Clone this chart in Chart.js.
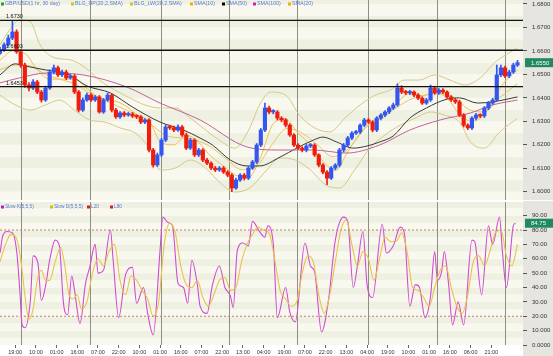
<!DOCTYPE html>
<html><head><meta charset="utf-8">
<script src="https://cdn.jsdelivr.net/npm/chart.js@4.4.1/dist/chart.umd.min.js"></script>
<style>
html,body{margin:0;padding:0;background:#fff;width:553px;height:356px;overflow:hidden}
#p{position:absolute;left:0;top:0;width:553px;height:200px}
#s{position:absolute;left:0;top:201px;width:553px;height:155px}
</style></head><body>
<canvas id="p" width="553" height="200"></canvas>
<canvas id="s" width="553" height="155"></canvas>
<script>
// ---------- DATA ----------
const candleHours = [0,3,6,9,12,15,18,21,24,27,30,33,36,39,42,45,48,51,54,57,60,63,66,69,72,75,78,81,84,87,90,93,96,99,102,105,108,111,114,117,120,123,126,129,132,135,138,141,144,147,150,153,156,159,162,165,168,171,174,177,180,183,186,189,192,195,198,201,204,207,210,213,216,219,222,225,228,231,234,237,240,243,246,249,252,255,258,261,264,267,270,273,276,279,282,285,288,291,294,297,300,303,306,309,312,315,318,321,324,327,330,333,336,339,342,345,348,351,354,357,360,363,366,369,372,375];
const opens = [1.6590,1.6604,1.6626,1.6655,1.6681,1.6596,1.6540,1.6455,1.6442,1.6468,
1.6425,1.6391,1.6442,1.6510,1.6528,1.6498,1.6510,1.6485,1.6493,1.6425,
1.6348,1.6391,1.6412,1.6391,1.6404,1.6340,1.6391,1.6412,1.6348,1.6319,
1.6336,1.6327,1.6331,1.6323,1.6319,1.6297,1.6306,1.6178,1.6114,1.6157,
1.6220,1.6276,1.6272,1.6263,1.6276,1.6242,1.6186,1.6220,1.6157,1.6178,
1.6135,1.6122,1.6101,1.6093,1.6101,1.6084,1.6071,1.6016,1.6050,1.6071,
1.6058,1.6101,1.6127,1.6199,1.6263,1.6357,1.6340,1.6340,1.6314,1.6306,
1.6284,1.6242,1.6199,1.6186,1.6178,1.6195,1.6199,1.6157,1.6114,1.6084,
1.6058,1.6101,1.6114,1.6178,1.6199,1.6229,1.6250,1.6255,1.6284,1.6306,
1.6297,1.6263,1.6314,1.6327,1.6340,1.6357,1.6370,1.6442,1.6425,1.6421,
1.6425,1.6412,1.6399,1.6378,1.6391,1.6442,1.6421,1.6433,1.6425,1.6404,
1.6391,1.6383,1.6327,1.6284,1.6272,1.6314,1.6327,1.6323,1.6357,1.6378,
1.6391,1.6498,1.6528,1.6493,1.6510,1.6540];
const highs = [1.6615,1.6635,1.6668,1.6730,1.6690,1.6605,1.6548,1.6465,1.6478,1.6475,
1.6432,1.6450,1.6520,1.6540,1.6535,1.6518,1.6518,1.6500,1.6500,1.6432,
1.6400,1.6420,1.6418,1.6410,1.6410,1.6398,1.6420,1.6418,1.6355,1.6342,
1.6342,1.6338,1.6338,1.6328,1.6325,1.6312,1.6312,1.6185,1.6165,1.6228,
1.6285,1.6284,1.6280,1.6285,1.6283,1.6250,1.6228,1.6226,1.6185,1.6184,
1.6142,1.6128,1.6108,1.6108,1.6108,1.6090,1.6078,1.6058,1.6078,1.6078,
1.6108,1.6134,1.6206,1.6270,1.6378,1.6365,1.6350,1.6346,1.6320,1.6312,
1.6290,1.6248,1.6205,1.6192,1.6202,1.6206,1.6205,1.6162,1.6120,1.6090,
1.6108,1.6120,1.6185,1.6206,1.6236,1.6256,1.6262,1.6290,1.6313,1.6312,
1.6303,1.6320,1.6333,1.6346,1.6363,1.6378,1.6460,1.6452,1.6432,1.6432,
1.6430,1.6418,1.6405,1.6398,1.6455,1.6450,1.6440,1.6440,1.6430,1.6410,
1.6398,1.6390,1.6333,1.6290,1.6320,1.6334,1.6332,1.6363,1.6385,1.6398,
1.6540,1.6540,1.6535,1.6518,1.6548,1.6560];
const lows = [1.6585,1.6598,1.6620,1.6648,1.6590,1.6530,1.6445,1.6430,1.6435,1.6418,
1.6382,1.6385,1.6436,1.6502,1.6490,1.6490,1.6478,1.6480,1.6418,1.6340,
1.6342,1.6385,1.6385,1.6385,1.6335,1.6334,1.6385,1.6340,1.6312,1.6312,
1.6320,1.6322,1.6316,1.6312,1.6290,1.6290,1.6170,1.6105,1.6108,1.6150,
1.6214,1.6265,1.6256,1.6257,1.6236,1.6180,1.6180,1.6150,1.6150,1.6128,
1.6115,1.6094,1.6086,1.6087,1.6078,1.6064,1.6000,1.6010,1.6044,1.6050,
1.6052,1.6095,1.6120,1.6192,1.6256,1.6332,1.6332,1.6306,1.6298,1.6276,
1.6236,1.6192,1.6180,1.6170,1.6170,1.6188,1.6150,1.6106,1.6076,1.6030,
1.6052,1.6094,1.6106,1.6170,1.6192,1.6222,1.6244,1.6248,1.6277,1.6290,
1.6255,1.6256,1.6306,1.6320,1.6333,1.6350,1.6364,1.6418,1.6414,1.6414,
1.6405,1.6392,1.6372,1.6372,1.6385,1.6415,1.6415,1.6418,1.6398,1.6385,
1.6376,1.6320,1.6276,1.6265,1.6265,1.6306,1.6316,1.6316,1.6350,1.6372,
1.6385,1.6490,1.6486,1.6486,1.6504,1.6534];
const closes = [1.6604,1.6626,1.6655,1.6681,1.6596,1.6540,1.6455,1.6442,1.6468,1.6425,
1.6391,1.6442,1.6510,1.6528,1.6498,1.6510,1.6485,1.6493,1.6425,1.6348,
1.6391,1.6412,1.6391,1.6404,1.6340,1.6391,1.6412,1.6348,1.6319,1.6336,
1.6327,1.6331,1.6323,1.6319,1.6297,1.6306,1.6178,1.6114,1.6157,1.6220,
1.6276,1.6272,1.6263,1.6276,1.6242,1.6186,1.6220,1.6157,1.6178,1.6135,
1.6122,1.6101,1.6093,1.6101,1.6084,1.6071,1.6016,1.6050,1.6071,1.6058,
1.6101,1.6127,1.6199,1.6263,1.6357,1.6340,1.6340,1.6314,1.6306,1.6284,
1.6242,1.6199,1.6186,1.6178,1.6195,1.6199,1.6157,1.6114,1.6084,1.6058,
1.6101,1.6114,1.6178,1.6199,1.6229,1.6250,1.6255,1.6284,1.6306,1.6297,
1.6263,1.6314,1.6327,1.6340,1.6357,1.6370,1.6442,1.6425,1.6421,1.6425,
1.6412,1.6399,1.6378,1.6391,1.6442,1.6421,1.6433,1.6425,1.6404,1.6391,
1.6383,1.6327,1.6284,1.6272,1.6314,1.6327,1.6323,1.6357,1.6378,1.6391,
1.6498,1.6528,1.6493,1.6510,1.6540,1.6550];

const sma50 = [[0,1.6498],[11,1.6545],[18,1.6536],[33,1.6519],[49,1.6502],[63,1.6451],[80,1.6421],[96,1.6361],[116,1.6297],[133,1.6263],[145,1.6229],[154,1.6199],[167,1.6135],[179,1.6110],[188,1.6110],[203,1.6148],[215,1.6186],[227,1.6220],[234,1.6233],[244,1.6212],[256,1.6186],[266,1.6195],[275,1.6212],[285,1.6238],[297,1.6314],[309,1.6357],[324,1.6395],[333,1.6400],[346,1.6378],[357,1.6383],[375,1.6404]];
const sma100 = [[0,1.6464],[14,1.6485],[34,1.6506],[60,1.6498],[92,1.6446],[116,1.6378],[145,1.6306],[179,1.6191],[203,1.6178],[227,1.6178],[251,1.6165],[275,1.6199],[297,1.6263],[319,1.6306],[341,1.6336],[357,1.6370],[375,1.6391]];
const bandUp = [[0,1.6626],[7,1.6690],[14,1.6732],[22,1.6724],[29,1.6626],[40,1.6570],[51,1.6562],[62,1.6528],[72,1.6476],[83,1.6434],[94,1.6400],[105,1.6370],[116,1.6357],[127,1.6357],[138,1.6314],[149,1.6263],[159,1.6220],[170,1.6186],[181,1.6272],[188,1.6370],[196,1.6425],[207,1.6412],[217,1.6327],[228,1.6272],[239,1.6255],[250,1.6314],[261,1.6370],[272,1.6412],[283,1.6434],[293,1.6476],[304,1.6476],[315,1.6498],[326,1.6476],[337,1.6455],[348,1.6485],[359,1.6553],[370,1.6596],[375,1.6613]];
const bandLow = [[0,1.6412],[11,1.6370],[22,1.6348],[33,1.6370],[43,1.6391],[54,1.6348],[65,1.6306],[76,1.6297],[87,1.6272],[98,1.6250],[109,1.6178],[116,1.6093],[127,1.6101],[138,1.6135],[149,1.6101],[159,1.6041],[170,1.5999],[181,1.6016],[192,1.6084],[203,1.6144],[214,1.6135],[225,1.6093],[236,1.6029],[246,1.6016],[257,1.6093],[268,1.6186],[279,1.6242],[290,1.6284],[301,1.6314],[312,1.6340],[322,1.6327],[333,1.6297],[341,1.6212],[351,1.6186],[362,1.6254],[375,1.6314]];
const sma20 = [[0,1.6520],[11,1.6540],[22,1.6536],[33,1.6500],[43,1.6480],[54,1.6460],[65,1.6420],[76,1.6390],[87,1.6360],[98,1.6330],[109,1.6290],[120,1.6240],[131,1.6230],[142,1.6220],[153,1.6190],[164,1.6140],[175,1.6095],[186,1.6110],[197,1.6200],[208,1.6270],[219,1.6250],[230,1.6200],[241,1.6150],[252,1.6180],[263,1.6260],[274,1.6320],[285,1.6350],[296,1.6390],[307,1.6410],[318,1.6420],[329,1.6400],[340,1.6350],[351,1.6340],[362,1.6400],[375,1.6460]];
const sma10 = [[0,1.6560],[9,1.6600],[18,1.6590],[27,1.6520],[36,1.6480],[45,1.6480],[54,1.6480],[63,1.6440],[72,1.6400],[81,1.6390],[90,1.6370],[99,1.6330],[108,1.6300],[117,1.6210],[126,1.6200],[135,1.6240],[144,1.6210],[153,1.6150],[162,1.6110],[171,1.6070],[180,1.6060],[189,1.6150],[198,1.6290],[207,1.6310],[216,1.6250],[225,1.6200],[234,1.6130],[243,1.6090],[252,1.6170],[261,1.6250],[270,1.6300],[279,1.6320],[288,1.6380],[297,1.6420],[306,1.6410],[315,1.6420],[324,1.6400],[333,1.6330],[342,1.6300],[351,1.6330],[360,1.6420],[369,1.6490],[375,1.6520]];

const levelValues = [1.6730, 1.6603, 1.6448];
const levelLabels = ['1.6730', '1.6603', '1.6453'];

const stochK = [[0,64],[2,76],[5,79],[9,78],[12,66],[14.5,36],[16,14],[18,12],[22,31],[24,62],[27.5,57],[30,31],[33,41],[36,59],[40,73],[43,69],[46,29],[49,21],[52,48],[54,38],[58,15],[62,43],[65,54],[69,70],[71,50],[75,52],[80,80],[82,59],[86,19],[91,49],[96,54],[99,29],[104,40],[107,22],[111,7],[116,66],[118,89],[122,85],[125,83],[129,43],[133,40],[136,29],[139,59],[143,42],[145,27],[150,22],[154,42],[159,55],[163,40],[167,34],[169,26],[172,66],[176,71],[180,69],[183,86],[188,79],[192,75],[194,83],[198,71],[201,19],[207,40],[210,23],[214,16],[221,71],[225,55],[228,51],[233,9],[238,31],[243,73],[249,89],[252,86],[256,40],[259,55],[263,79],[266,42],[270,33],[277,84],[280,64],[285,69],[290,82],[293,78],[297,27],[301,42],[304,40],[308,19],[312,34],[315,65],[317,45],[320,51],[322,65],[325,43],[328,14],[332,30],[336,14],[342,73],[344,72],[349,35],[354,83],[357,70],[362,89],[364,66],[367,40],[372,83],[373.5,84.75]];
const stochD = [[0,58],[4,70],[8,77],[12,74],[15,60],[18,35],[21,18],[24,25],[27,45],[30,52],[33,45],[36,45],[40,58],[44,68],[47,55],[50,35],[53,32],[56,35],[59,25],[63,30],[67,50],[71,60],[75,55],[79,65],[83,70],[87,45],[91,35],[95,48],[99,45],[103,38],[107,32],[111,20],[115,30],[119,70],[123,85],[127,78],[131,55],[135,42],[139,40],[143,45],[147,33],[151,27],[155,35],[159,45],[163,47],[167,38],[171,40],[175,58],[179,70],[183,77],[187,82],[191,80],[195,78],[199,60],[203,38],[207,32],[211,27],[215,30],[219,50],[223,62],[227,58],[231,35],[235,22],[239,35],[243,58],[247,80],[251,87],[255,70],[259,55],[263,65],[267,60],[271,45],[275,60],[279,75],[283,72],[287,72],[291,78],[295,65],[299,40],[303,38],[307,33],[311,27],[315,40],[319,52],[323,55],[327,40],[331,27],[335,22],[339,35],[343,58],[347,62],[351,55],[355,65],[359,78],[363,80],[367,62],[371,55],[375,70]];
const stochLevels = [20, 80];
const stochLast = 84.75;
const stochTickText = ['0.0000','10.000','20.00','30.00','40.00','50.00','60.00','70.00','80.00','90.00'];

const xTickHours = [11,26,41,56,71,86,101,116,131,146,161,176,191,206,221,236,251,266,281,296,311,326,341,356];
const xTickLabels = ['19:00','10:00','01:00','16:00','07:00','22:00','10:00','01:00','16:00','07:00','22:00','13:00','04:00','19:00','07:00','22:00','13:00','04:00','19:00','10:00','01:00','16:00','06:00','21:00'];
const dayLines = [15, 65, 117, 166, 215, 267, 317, 366];

// ---------- STYLE / HELPERS ----------
const FONT = 'Arial, "Liberation Sans", sans-serif';
const UP = '#3356f0', DOWN = '#f01c0c';
const candleColors = closes.map((c,i)=> c >= opens[i] ? UP : DOWN);
const pts = arr => arr.map(p=>({x:p[0], y:p[1]}));
const lineDs = (data, color, w, order) => ({type:'line', data:pts(data), borderColor:color, borderWidth:w, pointRadius:0, fill:false, cubicInterpolationMode:'monotone', order});

const bgPlugin = {
  id:'bgp',
  beforeDraw(chart, args, o){
    const {ctx, chartArea:a} = chart; const y = chart.scales.y, x = chart.scales.x;
    ctx.save();
    ctx.fillStyle='#ffffff'; ctx.fillRect(0,0,chart.width,chart.height);
    ctx.fillStyle='#e7e5e0'; ctx.fillRect(a.right,0,chart.width-a.right,chart.height);
    const n = Math.ceil((y.max - o.start)/o.step);
    for (let k=0;k<n;k++){
      const v0 = o.start + k*o.step, v1 = v0 + o.step;
      let t = y.getPixelForValue(v1), b = y.getPixelForValue(v0);
      t = Math.max(t, a.top); b = Math.min(b, a.bottom);
      if (b <= t) continue;
      ctx.fillStyle = (k%2) ? '#eef1e1' : '#f8f8ef';
      ctx.fillRect(a.left, t, a.right-a.left, b-t);
    }
    ctx.strokeStyle='#8e8e86'; ctx.lineWidth=1;
    for (const h of dayLines){
      const px = Math.round(x.getPixelForValue(h))+0.5;
      ctx.beginPath(); ctx.moveTo(px,a.top); ctx.lineTo(px,a.bottom); ctx.stroke();
    }
    ctx.restore();
  }
};

function drawLegend(ctx, items, y, size){
  ctx.save();
  ctx.font = size + 'px ' + FONT; ctx.textBaseline='middle';
  for (const it of items){
    ctx.fillStyle = it.c; ctx.fillRect(it.x, y-1.5, 3, 3);
    ctx.fillStyle = '#5a78d6'; ctx.fillText(it.t, it.x+4, y);
  }
  ctx.restore();
}
function drawBox(ctx, a, chartW, py, text){
  ctx.save();
  ctx.fillStyle = '#1f8a62';
  ctx.fillRect(a.right+2, py-4.5, chartW-a.right-2, 9);
  ctx.fillStyle = '#ffffff'; ctx.font = '6px ' + FONT; ctx.textBaseline='middle';
  ctx.fillText(text, a.right+8, py+0.5);
  ctx.restore();
}

const priceOverlay = {
  id:'po',
  afterDraw(chart){
    const {ctx, chartArea:a} = chart; const y = chart.scales.y;
    ctx.save();
    ctx.strokeStyle='#111'; ctx.lineWidth=1.3;
    ctx.font='5.5px ' + FONT; ctx.fillStyle='#111'; ctx.textBaseline='alphabetic';
    levelValues.forEach((v,i)=>{
      const py = y.getPixelForValue(v);
      ctx.beginPath(); ctx.moveTo(a.left,py); ctx.lineTo(a.right,py); ctx.stroke();
      ctx.fillText(levelLabels[i], 6, py-2);
    });
    ctx.restore();
    drawLegend(ctx, [
      {c:'#22a022', t:'GBP/USD(1 hr, 30 day)', x:1},
      {c:'#c8c828', t:'BLG_UP(20,2,SMA)', x:71},
      {c:'#c8c828', t:'BLG_LW(20,2,SMA)', x:130},
      {c:'#e8b400', t:'SMA(10)', x:190},
      {c:'#000000', t:'SMA(50)', x:222},
      {c:'#d020b0', t:'SMA(100)', x:253},
      {c:'#e8b400', t:'SMA(20)', x:288}
    ], 4, 5.3);
    const last = closes[closes.length-1];
    drawBox(ctx, a, chart.width, y.getPixelForValue(last), last.toFixed(4));
  }
};
const stochOverlay = {
  id:'so',
  afterDraw(chart){
    const {ctx, chartArea:a} = chart; const y = chart.scales.y;
    drawLegend(ctx, [
      {c:'#c020c0', t:'Slow K(5,5,5)', x:1},
      {c:'#d4c000', t:'Slow D(5,5,5)', x:50},
      {c:'#d82020', t:'L20', x:87},
      {c:'#d82020', t:'L80', x:110}
    ], 6, 4.8);
    drawBox(ctx, a, chart.width, y.getPixelForValue(stochLast), stochLast.toFixed(2));
  }
};

Chart.defaults.font.family = FONT;

// ---------- PRICE CHART ----------
new Chart(document.getElementById('p'), {
  type:'bar',
  data:{ datasets:[
    {type:'bar', data:candleHours.map((h,i)=>({x:h, y:[lows[i], highs[i]]})), backgroundColor:candleColors, barThickness:1, grouped:false, order:2},
    {type:'bar', data:candleHours.map((h,i)=>({x:h, y:[opens[i], closes[i]]})), backgroundColor:candleColors, barThickness:3.5, minBarLength:1.5, grouped:false, order:1},
    lineDs(bandUp, '#d6c98a', 1, 5),
    lineDs(bandLow, '#d6c98a', 1, 5),
    lineDs(sma20, '#e4c46a', 1, 4),
    lineDs(sma10, '#f0c050', 1, 4),
    lineDs(sma100, '#c0649a', 1, 3),
    lineDs(sma50, '#3a3a36', 1, 3)
  ]},
  options:{
    responsive:false, animation:false, events:[],
    layout:{padding:0},
    plugins:{legend:{display:false}, tooltip:{enabled:false}, bgp:{start:1.595, step:0.005}},
    scales:{
      x:{type:'linear', min:0, max:379, display:false, offset:false},
      y:{position:'right', min:1.5965, max:1.6817,
        ticks:{stepSize:0.01, includeBounds:false, font:{size:6}, color:'#333', padding:5, callback:v=>v.toFixed(4)},
        grid:{drawOnChartArea:false, drawTicks:true, tickLength:4, tickColor:'#555'},
        border:{display:false},
        afterFit:s=>{s.width=30; s.paddingTop=0; s.paddingBottom=0;}
      }
    }
  },
  plugins:[bgPlugin, priceOverlay]
});

// ---------- STOCHASTIC CHART ----------
new Chart(document.getElementById('s'), {
  type:'line',
  data:{ datasets:[
    {data:[{x:0,y:stochLevels[0]},{x:379,y:stochLevels[0]}], borderColor:'#c88070', borderWidth:1, borderDash:[2,2], pointRadius:0},
    {data:[{x:0,y:stochLevels[1]},{x:379,y:stochLevels[1]}], borderColor:'#c88070', borderWidth:1, borderDash:[2,2], pointRadius:0},
    {data:pts(stochD), borderColor:'#e8c24a', borderWidth:1.1, pointRadius:0, cubicInterpolationMode:'monotone'},
    {data:pts(stochK), borderColor:'#d24ad2', borderWidth:1.1, pointRadius:0, cubicInterpolationMode:'monotone'}
  ]},
  options:{
    responsive:false, animation:false, events:[],
    layout:{padding:{top:1, left:0, right:0, bottom:0}},
    plugins:{legend:{display:false}, tooltip:{enabled:false}, bgp:{start:0, step:5}},
    scales:{
      x:{type:'linear', min:0, max:379, position:'bottom', offset:false,
        afterBuildTicks:s=>{ s.ticks = xTickHours.map(v=>({value:v})); },
        ticks:{autoSkip:false, maxRotation:0, minRotation:0, font:{size:5.5}, color:'#333', padding:1, callback:(v,i)=>xTickLabels[i]},
        grid:{drawOnChartArea:false, drawTicks:true, tickLength:3, tickColor:'#666'},
        border:{display:false},
        afterFit:s=>{s.height=11; s.paddingLeft=0; s.paddingRight=0;}
      },
      y:{position:'right', min:0, max:99.5,
        ticks:{stepSize:10, includeBounds:false, font:{size:6}, color:'#333', padding:5, callback:v=>stochTickText[Math.round(v/10)]},
        grid:{drawOnChartArea:false, drawTicks:true, tickLength:4, tickColor:'#555'},
        border:{display:false},
        afterFit:s=>{s.width=30; s.paddingTop=0; s.paddingBottom=0;}
      }
    }
  },
  plugins:[bgPlugin, stochOverlay]
});
</script></body></html>
